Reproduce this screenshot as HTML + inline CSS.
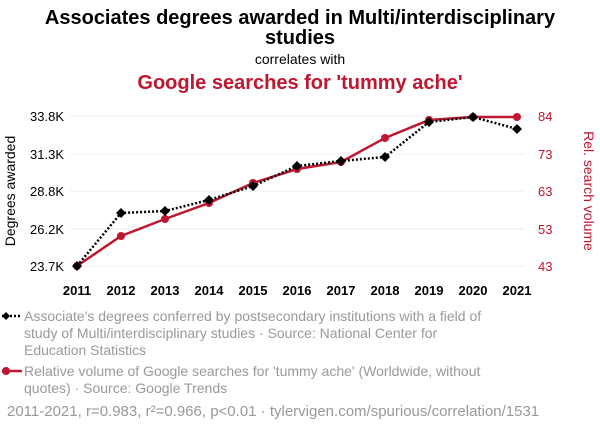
<!DOCTYPE html>
<html><head><meta charset="utf-8"><style>
body{margin:0;background:#fff;width:600px;height:430px;overflow:hidden;font-family:"Liberation Sans",sans-serif;}
</style></head><body>
<svg width="600" height="430" xmlns="http://www.w3.org/2000/svg" font-family="Liberation Sans, sans-serif">
<text x="300" y="24" text-anchor="middle" font-size="20" font-weight="bold" fill="#000">Associates degrees awarded in Multi/interdisciplinary</text>
<text x="300" y="44" text-anchor="middle" font-size="20" font-weight="bold" fill="#000">studies</text>
<text x="300" y="64" text-anchor="middle" font-size="14" fill="#000">correlates with</text>
<text x="300" y="89" text-anchor="middle" font-size="20" font-weight="bold" fill="#c0162f">Google searches for 'tummy ache'</text>
<g stroke="#eee" stroke-width="1">
<line x1="70" x2="525" y1="116" y2="116"/><line x1="70" x2="525" y1="154" y2="154"/><line x1="70" x2="525" y1="191" y2="191"/><line x1="70" x2="525" y1="229" y2="229"/><line x1="70" x2="525" y1="266" y2="266"/>
</g>
<g font-size="13" fill="#000" text-anchor="end">
<text x="64" y="121">33.8K</text><text x="64" y="159">31.3K</text><text x="64" y="196">28.8K</text><text x="64" y="234">26.2K</text><text x="64" y="271">23.7K</text>
</g>
<g font-size="13" fill="#c0162f" text-anchor="start">
<text x="538" y="121">84</text><text x="538" y="159">73</text><text x="538" y="196">63</text><text x="538" y="234">53</text><text x="538" y="271">43</text>
</g>
<text transform="translate(15,191) rotate(-90)" text-anchor="middle" font-size="14" fill="#000">Degrees awarded</text>
<text transform="translate(584,191) rotate(90)" text-anchor="middle" font-size="14" fill="#c0162f">Rel. search volume</text>
<g font-size="13" font-weight="bold" fill="#000" text-anchor="middle">
<text x="77" y="295">2011</text><text x="121" y="295">2012</text><text x="165" y="295">2013</text><text x="209" y="295">2014</text><text x="253" y="295">2015</text><text x="297" y="295">2016</text><text x="341" y="295">2017</text><text x="385" y="295">2018</text><text x="429" y="295">2019</text><text x="473" y="295">2020</text><text x="517" y="295">2021</text>
</g>
<polyline fill="none" stroke="#c0162f" stroke-width="2.5" points="77,266 121,236 165,219 209,203 253,183 297,169 341,162 385,138 429,120 473,117 517,117"/>
<g fill="#c0162f">
<circle cx="77" cy="266" r="4"/><circle cx="121" cy="236" r="4"/><circle cx="165" cy="219" r="4"/><circle cx="209" cy="203" r="4"/><circle cx="253" cy="183" r="4"/><circle cx="297" cy="169" r="4"/><circle cx="341" cy="162" r="4"/><circle cx="385" cy="138" r="4"/><circle cx="429" cy="120" r="4"/><circle cx="473" cy="117" r="4"/><circle cx="517" cy="117" r="4"/>
</g>
<polyline fill="none" stroke="#000" stroke-width="2.5" stroke-dasharray="2,2" points="77,266 121,213 165,211 209,200 253,186 297,166 341,161 385,157 429,122 473,117 517,129"/>
<g fill="#000">
<path d="M77 261l5 5-5 5-5-5z"/><path d="M121 208l5 5-5 5-5-5z"/><path d="M165 206l5 5-5 5-5-5z"/><path d="M209 195l5 5-5 5-5-5z"/><path d="M253 181l5 5-5 5-5-5z"/><path d="M297 161l5 5-5 5-5-5z"/><path d="M341 156l5 5-5 5-5-5z"/><path d="M385 152l5 5-5 5-5-5z"/><path d="M429 117l5 5-5 5-5-5z"/><path d="M473 112l5 5-5 5-5-5z"/><path d="M517 124l5 5-5 5-5-5z"/>
</g>
<line x1="2" x2="22" y1="316" y2="316" stroke="#000" stroke-width="2.5" stroke-dasharray="2,2"/>
<path d="M6 312l4 4-4 4-4-4z" fill="#000"/>
<g font-size="14" fill="#999">
<text x="24" y="321">Associate's degrees conferred by postsecondary institutions with a field of</text>
<text x="24" y="338">study of Multi/interdisciplinary studies · Source: National Center for</text>
<text x="24" y="355">Education Statistics</text>
<text x="24" y="376">Relative volume of Google searches for 'tummy ache' (Worldwide, without</text>
<text x="24" y="393">quotes) · Source: Google Trends</text>
<text x="7" y="416" font-size="15">2011-2021, r=0.983, r²=0.966, p&lt;0.01 · tylervigen.com/spurious/correlation/1531</text>
</g>
<line x1="2" x2="22" y1="371" y2="371" stroke="#c0162f" stroke-width="2.5"/>
<circle cx="6" cy="371" r="4" fill="#c0162f"/>
</svg>
</body></html>
